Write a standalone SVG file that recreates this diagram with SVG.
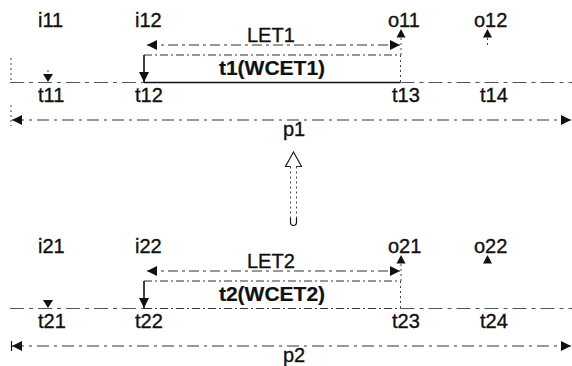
<svg xmlns="http://www.w3.org/2000/svg" width="572" height="366" viewBox="0 0 572 366">
  <style>
    text { font-family: "Liberation Sans", Arial, sans-serif; font-size: 20px; fill: #111; stroke: #111; stroke-width: 0.35; }
    .task { font-weight: bold; font-size: 21px; text-anchor: middle; stroke-width: 0.2; }
    .let { stroke: #333; stroke-width: 1.2; fill: none; stroke-dasharray: 10 4 3 4; }
    .period { stroke: #333; stroke-width: 1.2; fill: none; stroke-dasharray: 12 5 3 5; }
    .axis { stroke: #555; stroke-width: 1.1; fill: none; stroke-dasharray: 14 5 4 5; }
    .solid { stroke: #111; stroke-width: 1.6; fill: none; }
    .dot { stroke: #444; stroke-width: 1; fill: none; stroke-dasharray: 2 3; }
    .edge { stroke: #333; stroke-width: 1.1; fill: none; stroke-dasharray: 8 3 2 3; }
    .tri { fill: #111; }
    .hollow { stroke: #222; stroke-width: 1.2; fill: #fff; }
  </style>
  <defs>
    <marker id="ah" viewBox="0 0 10 10" refX="10" refY="5" markerUnits="userSpaceOnUse" markerWidth="11" markerHeight="10" orient="auto-start-reverse">
      <path d="M0,0 L10,5 L0,10 z" fill="#111"/>
    </marker>
  </defs>

  <!-- upper component: task t1 on period p1 -->
  <g id="i11"><text x="38" y="27">i11</text></g>
  <g id="i12"><text x="135" y="27">i12</text></g>
  <g id="o11"><text x="388" y="27">o11</text></g>
  <g id="o12"><text x="474" y="27">o12</text></g>
  <g id="let1"><text x="247" y="42">LET1</text></g>
  <g id="task1">
    <path class="edge" d="M144,55 H400.5"/>
    <path class="dot" d="M400.5,55 V82.5"/>
    <path class="solid" d="M144,82.5 H400.5"/>
    <text class="task" x="272" y="75">t1(WCET1)</text>
  </g>
  <g id="t11"><text x="38" y="102">t11</text></g>
  <g id="t12"><text x="135" y="102">t12</text></g>
  <g id="t13"><text x="392" y="102">t13</text></g>
  <g id="t14"><text x="480" y="102">t14</text></g>
  <g id="p1"><text x="283" y="136">p1</text></g>

  <!-- lower component: task t2 on period p2 -->
  <g id="i21"><text x="38" y="253">i21</text></g>
  <g id="i22"><text x="135" y="253">i22</text></g>
  <g id="o21"><text x="388" y="253">o21</text></g>
  <g id="o22"><text x="474" y="253">o22</text></g>
  <g id="let2"><text x="247" y="268">LET2</text></g>
  <g id="task2">
    <path class="edge" d="M144,281 H400.5"/>
    <path class="dot" d="M400.5,281 V308.5"/>
    <path class="edge" d="M144,308.5 H400.5"/>
    <text class="task" x="272" y="301">t2(WCET2)</text>
  </g>
  <g id="t21"><text x="38" y="328">t21</text></g>
  <g id="t22"><text x="135" y="328">t22</text></g>
  <g id="t23"><text x="392" y="328">t23</text></g>
  <g id="t24"><text x="480" y="328">t24</text></g>
  <g id="p2"><text x="283" y="362">p2</text></g>

  <g id="connectors">
    <!-- upper time axis and period -->
    <path class="axis" d="M10,82.5 H144 M400.5,82.5 H572"/>
    <path class="dot" d="M11,58 V82 M11,105 V126"/>
    <path class="period" d="M12,120 H571" marker-start="url(#ah)" marker-end="url(#ah)"/>
    <path class="let" d="M147,45 H400" marker-start="url(#ah)" marker-end="url(#ah)"/>
    <path class="solid" d="M144,55 V82" marker-end="url(#ah)"/>
    <path class="dot" d="M401,55 V33"/>
    <path class="tri" d="M396.5,37.5 L401,29 L405.5,37.5 z"/>
    <path class="dot" d="M487.5,45 V36"/>
    <path class="tri" d="M483,37.5 L487.5,29 L492,37.5 z"/>
    <path class="dot" d="M48,70 V76"/>
    <path class="tri" d="M43,74 L53,74 L48,82 z"/>

    <!-- refinement arrow between the two components -->
    <path class="hollow" d="M290.5,166.5 H285.5 L293.5,152 L301.5,166.5 H296.5"/>
    <path class="dot" d="M290.5,166.5 V222 M296.5,166.5 V222"/>
    <path class="solid" style="stroke-width:1.2" d="M290.5,218 V222 Q290.5,225.5 293.5,225.5 Q296.5,225.5 296.5,222 V218"/>

    <!-- lower time axis and period -->
    <path class="axis" d="M10,308.5 H144 M400.5,308.5 H572"/>
    <path class="period" d="M12,346 H571" marker-start="url(#ah)" marker-end="url(#ah)"/>
    <path class="solid" style="stroke-width:1.2" d="M11.5,341 V351"/>
    <path class="let" d="M147,271 H400" marker-start="url(#ah)" marker-end="url(#ah)"/>
    <path class="solid" d="M144,281 V308" marker-end="url(#ah)"/>
    <path class="dot" d="M401,281 V259"/>
    <path class="tri" d="M396.5,263.5 L401,255 L405.5,263.5 z"/>
    <path class="tri" d="M483,263.5 L487.5,255 L492,263.5 z"/>
    <path class="tri" d="M43,300 L53,300 L48,308 z"/>
  </g>
</svg>
